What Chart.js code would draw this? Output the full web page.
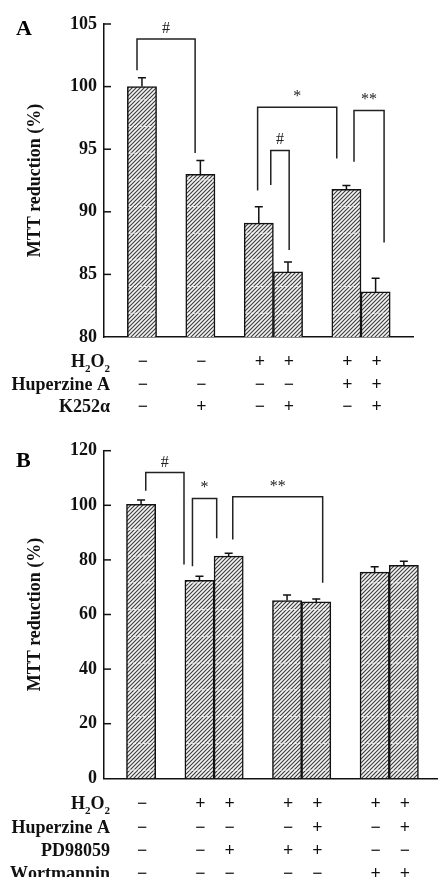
<!DOCTYPE html>
<html>
<head>
<meta charset="utf-8">
<script src="https://cdn.jsdelivr.net/npm/chart.js@4.4.1/dist/chart.umd.min.js"></script>
<style>
  body { margin: 0; background: #fff; }
  #wrap { position: relative; width: 438px; height: 877px; overflow: hidden; }
  .panel { position: absolute; left: 0; width: 438px; }
  .letter { position: absolute; left: 16px; font: bold 22px 'Liberation Serif', serif; line-height: 1; }
</style>
</head>
<body>
<div id="wrap">
  <div class="panel" style="top:0;height:432px"><canvas id="chartA"></canvas></div>
  <div class="letter" style="top:17px">A</div>
  <div class="panel" style="top:432px;height:445px"><canvas id="chartB"></canvas></div>
  <div class="letter" style="top:449px">B</div>
</div>
<script>
var serif = "'Liberation Serif', 'Times New Roman', serif";
Chart.defaults.font.family = serif;
Chart.defaults.color = '#111';

// panel A: bars per group (groups are separated by one empty slot)
var groupsA = [1, 1, 2, 2];
var mttA = [100.0, 93.0, 89.1, 85.2, 91.8, 83.6];
var semA = [0.7, 1.1, 1.3, 0.8, 0.3, 1.1];
var rowNamesA = ['H_2O_2', 'Huperzine A', 'K252\u03b1'];
var rowSignsA = [
  ['\u2212', '\u2212', '+', '+', '+', '+'],
  ['\u2212', '\u2212', '\u2212', '\u2212', '+', '+'],
  ['\u2212', '+', '\u2212', '+', '\u2212', '+']
];
// significance brackets, x in slots, y in % units
var bracketsA = [
  {text: '#', from: -0.17, to: 1.82, top: 103.8, left: 101.3, right: 94.7},
  {text: '*', from: 3.96, to: 6.67, top: 98.35, left: 91.7, right: 94.25},
  {text: '#', from: 4.41, to: 5.04, top: 94.9, left: 92.15, right: 86.95},
  {text: '**', from: 7.26, to: 8.29, top: 98.1, left: 94.0, right: 87.55}
];

// panel B
var groupsB = [1, 2, 2, 2];
var mttB = [100.4, 72.5, 81.4, 65.1, 64.6, 75.5, 78.0];
var semB = [1.5, 1.5, 1.0, 2.0, 1.1, 2.0, 1.5];
var rowNamesB = ['H_2O_2', 'Huperzine A', 'PD98059', 'Wortmannin'];
var rowSignsB = [
  ['\u2212', '+', '+', '+', '+', '+', '+'],
  ['\u2212', '\u2212', '\u2212', '\u2212', '+', '\u2212', '+'],
  ['\u2212', '\u2212', '+', '+', '+', '\u2212', '\u2212'],
  ['\u2212', '\u2212', '\u2212', '\u2212', '\u2212', '+', '+']
];
var bracketsB = [
  {text: '#', from: 0.16, to: 1.47, top: 112.0, left: 105.3, right: 78.3},
  {text: '*', from: 1.76, to: 2.59, top: 102.5, left: 77.7, right: 87.9},
  {text: '**', from: 3.14, to: 6.22, top: 103.1, left: 87.5, right: 71.6}
];

function slotPositions(groups) {
  var out = [], s = 0;
  groups.forEach(function(n) {
    for (var k = 0; k < n; k++) out.push(s++);
    s++;
  });
  return out;
}

function hatch() {
  var c = document.createElement('canvas');
  c.width = 4; c.height = 4;
  var g = c.getContext('2d');
  g.fillStyle = '#f4f4f4';
  g.fillRect(0, 0, 4, 4);
  g.strokeStyle = '#3a3a3a';
  g.lineWidth = 1.1;
  g.beginPath();
  g.moveTo(0, 4); g.lineTo(4, 0);
  g.moveTo(-1, 1); g.lineTo(1, -1);
  g.moveTo(3, 5); g.lineTo(5, 3);
  g.stroke();
  return g.createPattern(c, 'repeat');
}

// row label with "_2" style subscripts
function drawName(ctx, name, rightX, y) {
  var parts = [];
  for (var i = 0; i < name.length; i++) {
    if (name[i] === '_') { parts.push({t: name[i + 1], sub: true}); i++; }
    else parts.push({t: name[i], sub: false});
  }
  var big = 'bold 18px ' + serif, small = 'bold 11px ' + serif;
  var total = 0;
  parts.forEach(function(p) { ctx.font = p.sub ? small : big; p.w = ctx.measureText(p.t).width; total += p.w; });
  var x = rightX - total;
  ctx.textAlign = 'left';
  ctx.textBaseline = 'alphabetic';
  parts.forEach(function(p) {
    ctx.font = p.sub ? small : big;
    ctx.fillText(p.t, x, p.sub ? y + 5 : y);
    x += p.w;
  });
}

function panelPlugin(cfg) {
  return {
    id: 'panel',
    afterDatasetsDraw: function(chart) {
      var ctx = chart.ctx, xs = chart.scales.x, ys = chart.scales.y;
      var bars = chart.getDatasetMeta(0).data;
      ctx.save();
      // faint white dashes across the hatching
      ctx.strokeStyle = 'rgba(255,255,255,0.85)';
      ctx.lineWidth = 1;
      ctx.setLineDash([3, 2]);
      bars.forEach(function(b) {
        for (var v = cfg.dashFrom; v < ys.max; v += cfg.dashStep) {
          var py = ys.getPixelForValue(v);
          if (py <= b.y + 2 || py >= b.base - 1) continue;
          ctx.beginPath();
          ctx.moveTo(b.x - b.width / 2 + 1.5, py);
          ctx.lineTo(b.x + b.width / 2 - 1.5, py);
          ctx.stroke();
        }
      });
      ctx.setLineDash([]);
      // error bars (upper half only)
      ctx.strokeStyle = '#111';
      ctx.lineWidth = 1.5;
      bars.forEach(function(b, i) {
        var y1 = ys.getPixelForValue(cfg.values[i] + cfg.errors[i]);
        ctx.beginPath();
        ctx.moveTo(b.x, b.y);
        ctx.lineTo(b.x, y1);
        ctx.moveTo(b.x - 4, y1);
        ctx.lineTo(b.x + 4, y1);
        ctx.stroke();
      });
      // brackets
      ctx.strokeStyle = '#222';
      ctx.fillStyle = '#222';
      ctx.font = '16px ' + serif;
      ctx.textAlign = 'center';
      ctx.textBaseline = 'alphabetic';
      cfg.brackets.forEach(function(k) {
        var x1 = xs.getPixelForValue(k.from), x2 = xs.getPixelForValue(k.to);
        var top = ys.getPixelForValue(k.top);
        ctx.beginPath();
        ctx.moveTo(x1, ys.getPixelForValue(k.left));
        ctx.lineTo(x1, top);
        ctx.lineTo(x2, top);
        ctx.lineTo(x2, ys.getPixelForValue(k.right));
        ctx.stroke();
        ctx.fillText(k.text, (x1 + x2) / 2, top - 6);
      });
      ctx.restore();
    },
    afterDraw: function(chart) {
      var ctx = chart.ctx, xs = chart.scales.x, ys = chart.scales.y, area = chart.chartArea;
      ctx.save();
      // inward tick marks
      ctx.strokeStyle = '#111';
      ctx.lineWidth = 1.5;
      ys.ticks.forEach(function(t) {
        if (t.value === ys.min) return;
        var py = ys.getPixelForValue(t.value);
        ctx.beginPath();
        ctx.moveTo(area.left, py);
        ctx.lineTo(area.left + 7, py);
        ctx.stroke();
      });
      // treatment table
      ctx.fillStyle = '#111';
      cfg.rowNames.forEach(function(name, r) {
        var y = area.bottom + cfg.rowFirst + r * cfg.rowGap;
        drawName(ctx, name, area.left + 6, y);
        ctx.font = 'bold 18px ' + serif;
        ctx.textAlign = 'center';
        cfg.rowSigns[r].forEach(function(s, i) {
          ctx.fillText(s, xs.getPixelForValue(cfg.slots[i]) + 1, y);
        });
      });
      ctx.restore();
    }
  };
}

function makePanel(id, cfg) {
  cfg.slots = slotPositions(cfg.groups);
  var points = cfg.values.map(function(v, i) { return {x: cfg.slots[i], y: v}; });
  return new Chart(id, {
    type: 'bar',
    data: {
      datasets: [{
        data: points,
        backgroundColor: hatch(),
        borderColor: '#111',
        borderWidth: 1.5,
        barPercentage: 1,
        categoryPercentage: 1
      }]
    },
    options: {
      responsive: true,
      maintainAspectRatio: false,
      animation: false,
      layout: {padding: cfg.padding},
      plugins: {legend: {display: false}, tooltip: {enabled: false}},
      scales: {
        x: {
          type: 'linear', min: cfg.xMin, max: cfg.xMax, offset: false,
          ticks: {display: false},
          grid: {display: false, drawTicks: false},
          border: {display: true, color: '#111', width: 1.5},
          afterBuildTicks: function(s) { s.ticks = []; },
          afterFit: function(s) { s.height = 0; }
        },
        y: {
          min: cfg.yMin, max: cfg.yMax,
          ticks: {stepSize: cfg.yStep, padding: 7, color: '#111', font: {size: 18, weight: 'bold'}},
          grid: {display: false, drawTicks: false},
          border: {display: true, color: '#111', width: 1.5},
          title: {display: true, text: 'MTT reduction (%)', color: '#111', padding: {top: 25}, font: {size: 18, weight: 'bold'}},
          afterFit: function(s) { s.width = 104; }
        }
      }
    },
    plugins: [panelPlugin(cfg)]
  });
}

makePanel('chartA', {
  groups: groupsA, values: mttA, errors: semA, brackets: bracketsA,
  rowNames: rowNamesA, rowSigns: rowSignsA, rowFirst: 30, rowGap: 22.5,
  xMin: -1.3, xMax: 9.28, yMin: 80, yMax: 105, yStep: 5,
  dashFrom: 81.9, dashStep: 2.13,
  padding: {top: 24, bottom: 95, left: 0, right: 25}
});

makePanel('chartB', {
  groups: groupsB, values: mttB, errors: semB, brackets: bracketsB,
  rowNames: rowNamesB, rowSigns: rowSignsB, rowFirst: 31, rowGap: 23.2,
  xMin: -1.27, xMax: 10.17, yMin: 0, yMax: 120, yStep: 20,
  dashFrom: 3.0, dashStep: 9.8,
  padding: {top: 18.7, bottom: 98.7, left: 0, right: 0}
});
</script>
</body>
</html>
